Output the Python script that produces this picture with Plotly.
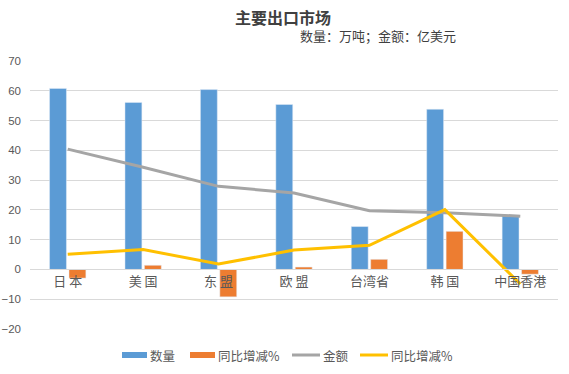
import plotly.graph_objects as go

categories = ["日 本", "美 国", "东 盟", "欧 盟", "台湾省", "韩 国", "中国香港"]
qty = [60.8, 56.1, 60.4, 55.4, 14.4, 53.8, 18.3]
qty_yoy = [-2.9, 1.4, -9.2, 0.8, 3.4, 12.8, -1.6]
amount = [40.4, 34.3, 27.9, 25.7, 19.7, 19.0, 17.9]
amount_yoy = [5.1, 6.7, 1.8, 6.5, 8.1, 20.1, -4.9]
y_ticks = [-20, -10, 0, 10, 20, 30, 40, 50, 60, 70]
series_names = ["数量", "同比增减%", "金额", "同比增减%"]
series_colors = ["#5B9BD5", "#ED7D31", "#A5A5A5", "#FFC000"]

FONT = "Noto Sans CJK SC"
TXT = "#595959"
W, H = 569, 374
L, R, T, B = 30, 11, 61, 45
pw, ph = W - L - R, H - T - B


def px(x):
    return (x - L) / pw


def py(y):
    return (H - B - y) / ph


fig = go.Figure()
fig.add_trace(go.Bar(x=categories, y=qty, name=series_names[0], marker_color=series_colors[0]))
fig.add_trace(go.Bar(x=categories, y=qty_yoy, name=series_names[1], marker_color=series_colors[1]))
fig.add_trace(go.Scatter(x=categories, y=amount, name=series_names[2], mode="lines",
                         line=dict(color=series_colors[2], width=3)))
fig.add_trace(go.Scatter(x=categories, y=amount_yoy, name=series_names[3], mode="lines",
                         line=dict(color=series_colors[3], width=3)))

ymin, ymax = -20, 70

shapes = []
annotations = [
    dict(text="<b>主要出口市场</b>", x=px(283), y=py(17), showarrow=False,
         font=dict(size=16, color="#404040", family=FONT)),
    dict(text="数量：万吨；金额：亿美元", x=px(378), y=py(35), showarrow=False,
         font=dict(size=13, color="#404040", family=FONT)),
]
leg_items = [(122, 147, "bar"), (190, 215, "bar"), (292, 320, "line"), (360, 388, "line")]
ly = 355
for (x0, x1, kind), name, col in zip(leg_items, series_names, series_colors):
    if kind == "bar":
        shapes.append(dict(type="rect", xref="paper", yref="paper", x0=px(x0), x1=px(x1),
                           y0=py(ly + 3), y1=py(ly - 3), fillcolor=col, line=dict(width=0)))
    else:
        shapes.append(dict(type="line", xref="paper", yref="paper", x0=px(x0), x1=px(x1),
                           y0=py(ly), y1=py(ly), line=dict(color=col, width=3)))
    annotations.append(dict(text=name, x=px(x1 + 1), y=py(ly), xanchor="left", showarrow=False,
                            font=dict(size=12.5, color=TXT, family=FONT)))

for a in annotations:
    a.setdefault("xref", "paper")
    a.setdefault("yref", "paper")
    a.setdefault("xanchor", "center")
    a.setdefault("yanchor", "middle")

fig.update_layout(
    width=W, height=H,
    margin=dict(l=L, r=R, t=T, b=B, autoexpand=False),
    paper_bgcolor="white", plot_bgcolor="white",
    font=dict(family=FONT, color=TXT, size=11),
    bargap=0.485, bargroupgap=0.13, barmode="group",
    showlegend=False,
    xaxis=dict(anchor="free", position=(0 - ymin) / (ymax - ymin), showline=True,
               linecolor="#D9D9D9", linewidth=1, ticks="", showgrid=False,
               tickfont=dict(size=13, color=TXT), fixedrange=True, automargin=False),
    yaxis=dict(range=[ymin, ymax], tickvals=y_ticks, showgrid=True, gridcolor="#D9D9D9",
               zeroline=False, showline=False, ticks="", ticklabelstandoff=8, automargin=False,
               tickfont=dict(size=11.5, color=TXT, family="Liberation Sans")),
    shapes=shapes,
    annotations=annotations,
)

fig.write_html("out.html", post_script="document.body.style.margin='0';",
               config={"displayModeBar": False})
